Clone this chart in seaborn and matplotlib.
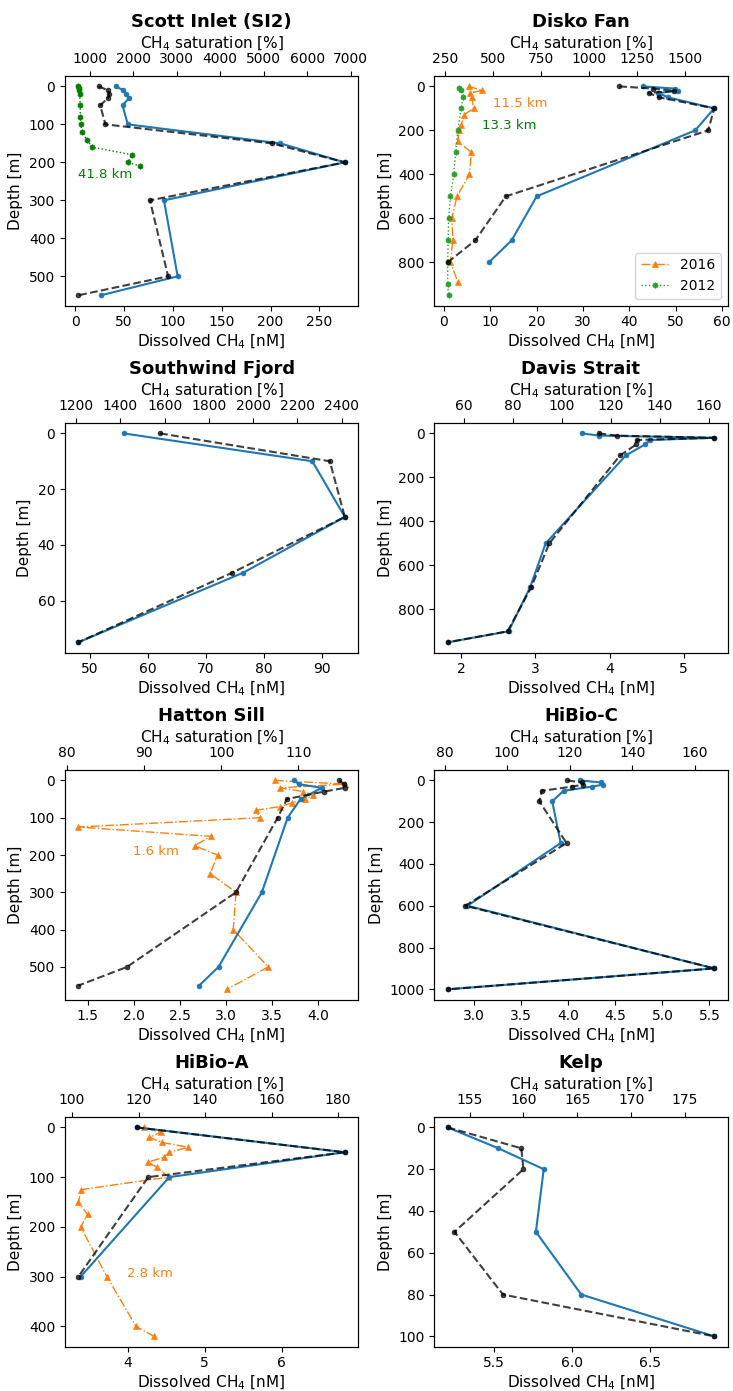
import numpy as np
import pandas as pd
import matplotlib
matplotlib.use("Agg")
import matplotlib.pyplot as plt
import seaborn as sns

# station profiles: depth [m], dissolved CH4 [nM] (blue), CH4 saturation [%] (black)
scott_depth = [0, 10, 20, 30, 50, 100, 150, 200, 300, 500, 550]
scott_nm = [41.5, 49.5, 52.0, 55.5, 48.6, 54.0, 210.0, 276.0, 91.0, 105.0, 26.4]
scott_sat = [1206, 1420, 1450, 1430, 1244, 1365, 5187, 6863, 2386, 2804, 742]
scott_g_depth = [0, 5, 10, 20, 50, 80, 100, 120, 140, 160, 180, 200, 210]
scott_g_nm = [3.4, 4.0, 4.4, 4.6, 5.3, 5.4, 5.8, 7.5, 11.9, 17.6, 58.7, 54.3, 66.0]

disko_depth = [0, 10, 20, 30, 50, 100, 200, 500, 700, 800]
disko_nm = [42.9, 49.8, 50.5, 46.2, 48.4, 58.3, 54.2, 20.0, 14.6, 9.7]
disko_sat = [1156, 1331, 1439, 1310, 1366, 1651, 1620, 565, 406, 262]
disko_o_depth = [0, 18, 30, 50, 100, 128, 175, 200, 250, 300, 400, 500, 600, 700, 800, 890]
disko_o_nm = [5.3, 8.2, 5.7, 6.0, 6.4, 4.4, 3.7, 3.2, 3.0, 5.9, 5.5, 2.8, 1.7, 1.9, 1.4, 3.0]
disko_g_depth = [8, 17, 50, 100, 200, 300, 400, 500, 600, 700, 800, 900, 950]
disko_g_nm = [3.3, 3.6, 4.1, 3.7, 3.0, 2.5, 2.1, 1.4, 1.0, 0.9, 0.8, 0.8, 1.0]

south_depth = [0, 10, 30, 50, 75]
south_nm = [55.8, 88.3, 93.9, 76.4, 48.0]
south_sat = [1580, 2347, 2415, 1906, 1210]

davis_depth = [0, 10, 20, 30, 50, 100, 500, 700, 900, 950]
davis_nm = [3.63, 3.86, 5.41, 4.55, 4.48, 4.22, 3.14, 2.93, 2.64, 1.82]
davis_sat = [115.0, 122.5, 162.3, 130.7, 130.4, 123.8, 94.8, 87.4, 77.7, 53.2]

hatton_depth = [0, 10, 20, 50, 100, 300, 500, 550]
hatton_nm = [3.74, 3.79, 4.04, 3.81, 3.67, 3.39, 2.92, 2.71]
hatton_s_depth = [0, 10, 20, 30, 50, 100, 300, 500, 550]
hatton_sat = [115.3, 115.9, 116.0, 113.3, 108.5, 107.3, 101.9, 87.8, 81.5]
hatton_o_depth = [0, 10, 20, 30, 40, 50, 60, 70, 80, 100, 125, 150, 175, 200, 250, 300, 400, 500, 560]
hatton_o_nm = [3.53, 4.29, 3.59, 3.84, 3.95, 3.86, 3.72, 3.59, 3.33, 3.37, 1.40, 2.84, 2.66, 2.91, 2.83,
               3.11, 3.08, 3.46, 3.01]

hibioc_depth = [0, 10, 20, 30, 50, 100, 300, 600, 900, 1000]
hibioc_nm = [4.12, 4.35, 4.37, 4.25, 3.95, 3.83, 3.92, 2.93, 5.55, 2.72]
hibioc_sat = [119.3, 123.8, 124.4, 120.6, 111.1, 110.3, 119.0, 86.6, 166.2, 81.0]

hibioa_depth = [0, 50, 100, 300]
hibioa_nm = [4.12, 6.82, 4.54, 3.39]
hibioa_sat = [119.4, 182.0, 122.9, 101.9]
hibioa_o_depth = [0, 10, 20, 30, 40, 50, 60, 70, 80, 100, 125, 150, 175, 200, 300, 400, 420]
hibioa_o_nm = [4.21, 4.43, 4.28, 4.44, 4.79, 4.54, 4.47, 4.26, 4.38, 4.53, 3.40, 3.36, 3.48, 3.39,
               3.73, 4.11, 4.34]

kelp_depth = [0, 10, 20, 50, 80, 100]
kelp_nm = [5.206, 5.53, 5.82, 5.77, 6.06, 6.91]
kelp_sat = [152.97, 159.8, 160.0, 153.6, 158.1, 177.7]

LABEL_FS = 11


def profile(ax, x, y, color, ls, marker, ms, lw, alpha=1.0, label=None):
    sns.lineplot(x=x, y=y, ax=ax, sort=False, estimator=None, legend=False,
                 color=color, linestyle=ls, marker=marker, markersize=ms,
                 markeredgecolor=color, markeredgewidth=0.5, linewidth=lw,
                 alpha=alpha, label=label)


def panel(ax, title, depth, nm, sat, sat_depth=None):
    ax2 = ax.twiny()
    profile(ax, nm, depth, "#1f77b4", "-", "o", 3.5, 1.5)
    profile(ax2, sat, depth if sat_depth is None else sat_depth, "k", "--", "o", 3.5, 1.5, alpha=0.75)
    ax.set_xlabel("Dissolved CH$_4$ [nM]", fontsize=LABEL_FS, labelpad=2)
    ax.set_ylabel("Depth [m]", fontsize=LABEL_FS)
    ax2.set_xlabel("CH$_4$ saturation [%]", fontsize=LABEL_FS, labelpad=3)
    ax2.set_ylabel("")
    ax.set_title(title, fontsize=13, fontweight="bold", pad=5)
    return ax2


fig = plt.figure(figsize=(7.33, 13.91), dpi=100)
axes = fig.subplots(4, 2)
fig.subplots_adjust(left=0.0887, right=0.9925, top=0.9454, bottom=0.0318, wspace=0.26, hspace=0.51)

# Scott Inlet
ax = axes[0, 0]
profile(ax, scott_g_nm, scott_g_depth, "green", ":", "h", 4, 1.0)
panel(ax, "Scott Inlet (SI2)", scott_depth, scott_nm, scott_sat)
ax.text(31, 233, "41.8 km", color="green", fontsize=9.5, ha="center", va="center")

# Disko Fan
ax = axes[0, 1]
profile(ax, disko_o_nm, disko_o_depth, "#ff7f0e", "-.", "^", 4, 1.0, label="2016")
profile(ax, disko_g_nm, disko_g_depth, "#2ca02c", ":", "h", 4, 1.0, label="2012")
panel(ax, "Disko Fan", disko_depth, disko_nm, disko_sat)
ax.text(16.5, 78, "11.5 km", color="#ff7f0e", fontsize=9.5, ha="center", va="center")
ax.text(14.0, 180, "13.3 km", color="green", fontsize=9.5, ha="center", va="center")
ax.legend(loc="lower right", fontsize=10)

# Southwind Fjord
panel(axes[1, 0], "Southwind Fjord", south_depth, south_nm, south_sat)

# Davis Strait
panel(axes[1, 1], "Davis Strait", davis_depth, davis_nm, davis_sat)

# Hatton Sill
ax = axes[2, 0]
profile(ax, hatton_o_nm, hatton_o_depth, "#ff7f0e", "-.", "^", 4, 1.0)
panel(ax, "Hatton Sill", hatton_depth, hatton_nm, hatton_sat, hatton_s_depth)
ax.text(2.24, 190, "1.6 km", color="#ff7f0e", fontsize=9.5, ha="center", va="center")

# HiBio-C
panel(axes[2, 1], "HiBio-C", hibioc_depth, hibioc_nm, hibioc_sat)

# HiBio-A
ax = axes[3, 0]
profile(ax, hibioa_o_nm, hibioa_o_depth, "#ff7f0e", "-.", "^", 4, 1.0)
panel(ax, "HiBio-A", hibioa_depth, hibioa_nm, hibioa_sat)
ax.text(4.29, 293, "2.8 km", color="#ff7f0e", fontsize=9.5, ha="center", va="center")

# Kelp
panel(axes[3, 1], "Kelp", kelp_depth, kelp_nm, kelp_sat)

for ax in axes.flat:
    ax.invert_yaxis()

fig.savefig("out.png", dpi=100)
